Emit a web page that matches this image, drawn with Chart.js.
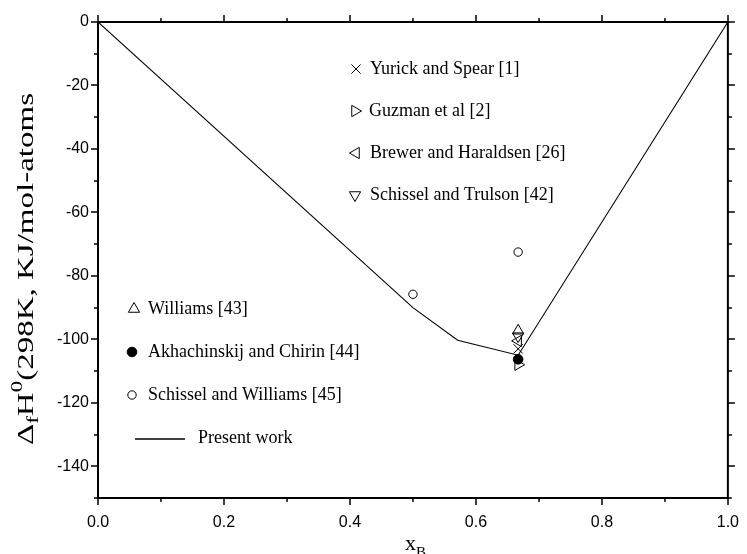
<!DOCTYPE html>
<html>
<head>
<meta charset="utf-8">
<script src="https://cdn.jsdelivr.net/npm/chart.js@4/dist/chart.umd.min.js"></script>
<style>
  html, body { margin: 0; padding: 0; background: #fff; }
  canvas { display: block; }
</style>
</head>
<body>
<canvas id="enthalpyChart" width="747" height="554"></canvas>
<script>
// ─── Data ────────────────────────────────────────────
const xTicks = [0, 0.2, 0.4, 0.6, 0.8, 1.0];
const yTicks = [0, -20, -40, -60, -80, -100, -120, -140];

// present work (calculated line)
const presentX = [0, 0.5, 0.571, 0.667, 1.0];
const presentY = [0, -90, -100.3, -105, 0];

// experimental values
const yurickX = [0.667];      const yurickY = [-103];
const guzmanX = [0.667];      const guzmanY = [-108];
const brewerX = [0.667];      const brewerY = [-100.5];
const trulsonX = [0.667];     const trulsonY = [-99];
const williamsX = [0.667];    const williamsY = [-97.3];
const akhachX = [0.667];      const akhachY = [-106.3];
const schWilliamsX = [0.5, 0.667];
const schWilliamsY = [-85.8, -72.5];

const toPts = (xs, ys) => xs.map((x, i) => ({ x: x, y: ys[i] }));

const NONE = 'rgba(0,0,0,0)';

// ─── Marker styles per series ────────────────────────
const styles = {
  yurick:   { pointStyle: 'crossRot', rotation: 0,   radius: 6.5, fill: NONE },
  guzman:   { pointStyle: 'triangle', rotation: 90,  radius: 6.5, fill: NONE },
  brewer:   { pointStyle: 'triangle', rotation: -90, radius: 6.5, fill: NONE },
  trulson:  { pointStyle: 'triangle', rotation: 180, radius: 6.5, fill: NONE },
  williams: { pointStyle: 'triangle', rotation: 0,   radius: 6.5, fill: NONE },
  akhach:   { pointStyle: 'circle',   rotation: 0,   radius: 4.8, fill: '#000' },
  schWill:  { pointStyle: 'circle',   rotation: 0,   radius: 4.2, fill: NONE }
};

function markerSet(label, pts, st) {
  return {
    label: label,
    data: pts,
    showLine: false,
    pointStyle: st.pointStyle,
    rotation: st.rotation,
    pointRadius: st.radius,
    pointHoverRadius: st.radius,
    pointBackgroundColor: st.fill,
    pointBorderColor: '#000',
    pointBorderWidth: 1
  };
}

// ─── Legend entries (drawn by hand, like the original) ─
const legendItems = [
  { text: 'Yurick and Spear [1]',          st: styles.yurick,   mx: 356, tx: 370, y: 69 },
  { text: 'Guzman et al [2]',              st: styles.guzman,   mx: 355, tx: 369, y: 111 },
  { text: 'Brewer and Haraldsen [26]',     st: styles.brewer,   mx: 356, tx: 370, y: 153 },
  { text: 'Schissel and Trulson [42]',     st: styles.trulson,  mx: 355, tx: 370, y: 195 },
  { text: 'Williams [43]',                 st: styles.williams, mx: 134, tx: 148, y: 309 },
  { text: 'Akhachinskij and Chirin [44]',  st: styles.akhach,   mx: 132, tx: 148, y: 352 },
  { text: 'Schissel and Williams [45]',    st: styles.schWill,  mx: 132, tx: 148, y: 395 },
  { text: 'Present work',                  st: null,            mx: 135, tx: 198, y: 438 }
];

const SERIF = '"Liberation Serif", "Times New Roman", serif';

// frame + outward ticks on all four sides
const framePlugin = {
  id: 'frame',
  beforeDatasetsDraw(chart) {
    const ctx = chart.ctx;
    const a = chart.chartArea;
    const xs = chart.scales.x;
    const ys = chart.scales.y;
    ctx.save();
    ctx.strokeStyle = '#000';
    ctx.lineWidth = 2;
    ctx.strokeRect(a.left, a.top, a.right - a.left, a.bottom - a.top);

    ctx.lineWidth = 1.5;
    ctx.beginPath();
    for (let i = 0; i <= 10; i++) {
      const len = i % 2 === 0 ? 7 : 4;
      const px = Math.round(xs.getPixelForValue(i / 10));
      ctx.moveTo(px, a.bottom); ctx.lineTo(px, a.bottom + len);
      ctx.moveTo(px, a.top);    ctx.lineTo(px, a.top - len);
    }
    for (let i = 0; i <= 15; i++) {
      const len = i % 2 === 0 ? 7 : 4;
      const py = Math.round(ys.getPixelForValue(-10 * i));
      ctx.moveTo(a.left, py);  ctx.lineTo(a.left - len, py);
      ctx.moveTo(a.right, py); ctx.lineTo(a.right + len, py);
    }
    ctx.stroke();
    ctx.restore();
  },
  afterDraw(chart) {
    const ctx = chart.ctx;
    ctx.save();
    ctx.fillStyle = '#000';
    ctx.strokeStyle = '#000';

    // legend
    legendItems.forEach(item => {
      if (item.st) {
        ctx.lineWidth = 1;
        ctx.fillStyle = item.st.fill;
        Chart.helpers.drawPoint(ctx, {
          pointStyle: item.st.pointStyle,
          rotation: item.st.rotation,
          radius: item.st.radius,
          borderWidth: 1
        }, item.mx, item.y);
      } else {
        ctx.lineWidth = 1.5;
        ctx.beginPath();
        ctx.moveTo(item.mx, item.y + 1);
        ctx.lineTo(item.mx + 50, item.y + 1);
        ctx.stroke();
      }
      ctx.fillStyle = '#000';
      ctx.save();
      ctx.translate(item.tx, item.y);
      ctx.scale(1, 1.1);
      ctx.font = '18px ' + SERIF;
      ctx.textBaseline = 'middle';
      ctx.textAlign = 'left';
      ctx.fillText(item.text, 0, 0);
      ctx.restore();
    });

    // y axis title: Δ_f H^0(298K, KJ/mol-atoms
    const parts = [
      { t: 'Δ', size: 23, dy: 0 },
      { t: 'f', size: 16, dy: 5 },
      { t: 'H', size: 23, dy: 0 },
      { t: '0', size: 16, dy: -11 },
      { t: '(298K, KJ/mol-atoms', size: 23, dy: 0 }
    ];
    let total = 0;
    parts.forEach(p => {
      ctx.font = p.size + 'px ' + SERIF;
      p.w = ctx.measureText(p.t).width;
      total += p.w;
    });
    ctx.save();
    ctx.translate(33, 269);
    ctx.rotate(-Math.PI / 2);
    ctx.scale(352 / total, 1);
    ctx.textBaseline = 'alphabetic';
    ctx.textAlign = 'left';
    let cx = -total / 2;
    parts.forEach(p => {
      ctx.font = p.size + 'px ' + SERIF;
      ctx.fillText(p.t, cx, p.dy);
      cx += p.w;
    });
    ctx.restore();

    // x axis title: x_B
    ctx.textBaseline = 'alphabetic';
    ctx.textAlign = 'left';
    ctx.font = '22px ' + SERIF;
    ctx.fillText('x', 405, 550);
    ctx.font = '15px ' + SERIF;
    ctx.fillText('B', 416, 557);
    ctx.restore();
  }
};

// ─── Chart.js Setup ──────────────────────────────────
const ctx = document.getElementById('enthalpyChart').getContext('2d');

new Chart(ctx, {
  type: 'scatter',
  data: {
    datasets: [
      {
        label: 'Present work',
        data: toPts(presentX, presentY),
        showLine: true,
        borderColor: '#000',
        borderWidth: 1.1,
        pointRadius: 0,
        pointHoverRadius: 0,
        tension: 0
      },
      markerSet('Yurick and Spear [1]', toPts(yurickX, yurickY), styles.yurick),
      markerSet('Guzman et al [2]', toPts(guzmanX, guzmanY), styles.guzman),
      markerSet('Brewer and Haraldsen [26]', toPts(brewerX, brewerY), styles.brewer),
      markerSet('Schissel and Trulson [42]', toPts(trulsonX, trulsonY), styles.trulson),
      markerSet('Williams [43]', toPts(williamsX, williamsY), styles.williams),
      markerSet('Akhachinskij and Chirin [44]', toPts(akhachX, akhachY), styles.akhach),
      markerSet('Schissel and Williams [45]', toPts(schWilliamsX, schWilliamsY), styles.schWill)
    ]
  },
  options: {
    responsive: false,
    animation: false,
    layout: { padding: { top: 22, right: 14, left: 0, bottom: 0 } },
    plugins: {
      legend: { display: false },
      tooltip: { enabled: false }
    },
    scales: {
      x: {
        type: 'linear',
        min: 0,
        max: 1,
        afterBuildTicks: s => { s.ticks = xTicks.map(v => ({ value: v })); },
        afterFit: s => { s.height = 56; },
        grid: { display: false, drawTicks: true, tickLength: 7 },
        border: { display: false },
        ticks: {
          color: '#000',
          padding: 8,
          maxRotation: 0,
          font: { family: '"Liberation Sans", Arial, sans-serif', size: 16 },
          callback: v => Number(v).toFixed(1)
        }
      },
      y: {
        type: 'linear',
        min: -150,
        max: 0,
        afterBuildTicks: s => { s.ticks = yTicks.map(v => ({ value: v })); },
        afterFit: s => { s.width = 98; },
        grid: { display: false, drawTicks: true, tickLength: 7 },
        border: { display: false },
        ticks: {
          color: '#000',
          padding: 2,
          font: { family: '"Liberation Sans", Arial, sans-serif', size: 16 },
          callback: v => String(v)
        }
      }
    }
  },
  plugins: [framePlugin]
});
</script>
</body>
</html>
